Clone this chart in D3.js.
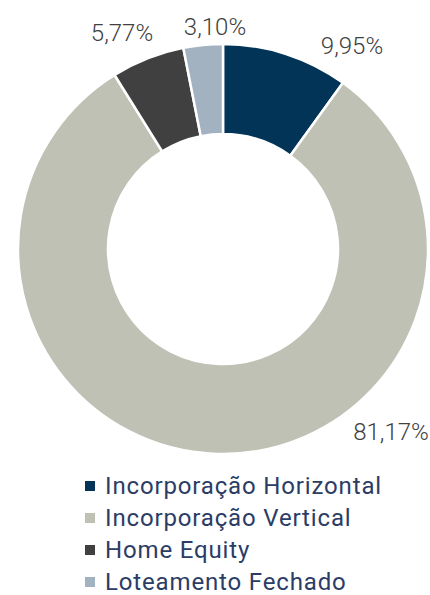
<!DOCTYPE html>
<html><head><meta charset="utf-8">
<script src="https://cdn.jsdelivr.net/npm/d3@7"></script>
<style>body{margin:0;background:#fff}svg{display:block}</style>
</head><body>
<script>
const categories = ["Incorporação Horizontal","Incorporação Vertical","Home Equity","Loteamento Fechado"];
const values = [9.95, 81.17, 5.77, 3.10];
const labels = ["9,95%","81,17%","5,77%","3,10%"];
const colors = ["#023458","#BFC1B5","#404040","#A2B2C0"];

const W=430,H=595, cx=223, cy=249, R=205, r=115;
const svg=d3.select("body").append("svg").attr("width",W).attr("height",H);
const pie=d3.pie().sort(null).value(d=>d)(values);
const arc=d3.arc().innerRadius(r).outerRadius(R);
const g=svg.append("g").attr("transform",`translate(${cx},${cy})`);
g.selectAll("path").data(pie).join("path").attr("d",arc)
 .attr("fill",(d,i)=>colors[i]).attr("stroke","#fff").attr("stroke-width",2.5);

const labelPos=[[352,54],[391,440],[122,41],[215,35]];
svg.selectAll("text.lbl").data(labels).join("text").attr("class","lbl")
 .attr("x",(d,i)=>labelPos[i][0]).attr("y",(d,i)=>labelPos[i][1]).attr("text-anchor","middle")
 .attr("font-family","Roboto, sans-serif").attr("font-weight",300).attr("font-size",24)
 .attr("fill","#404040").text(d=>d);

const lg=svg.append("g");
const rows=lg.selectAll("g").data(categories).join("g").attr("transform",(d,i)=>`translate(85,${494+i*32})`);
rows.append("rect").attr("x",0).attr("y",-13).attr("width",10).attr("height",10).attr("fill",(d,i)=>colors[i]);
const txt=rows.append("text").attr("x",20).attr("y",0).attr("font-family","Roboto, sans-serif").attr("font-weight",400)
 .attr("font-size",24).attr("fill","#2B3C66").text(d=>d);
// fit letter spacing so the longest entry spans the reference width
const n0=txt.nodes()[0], w0=n0.getComputedTextLength();
const ls=(277-w0)/(categories[0].length);
txt.attr("letter-spacing",ls);
</script>
</body></html>
